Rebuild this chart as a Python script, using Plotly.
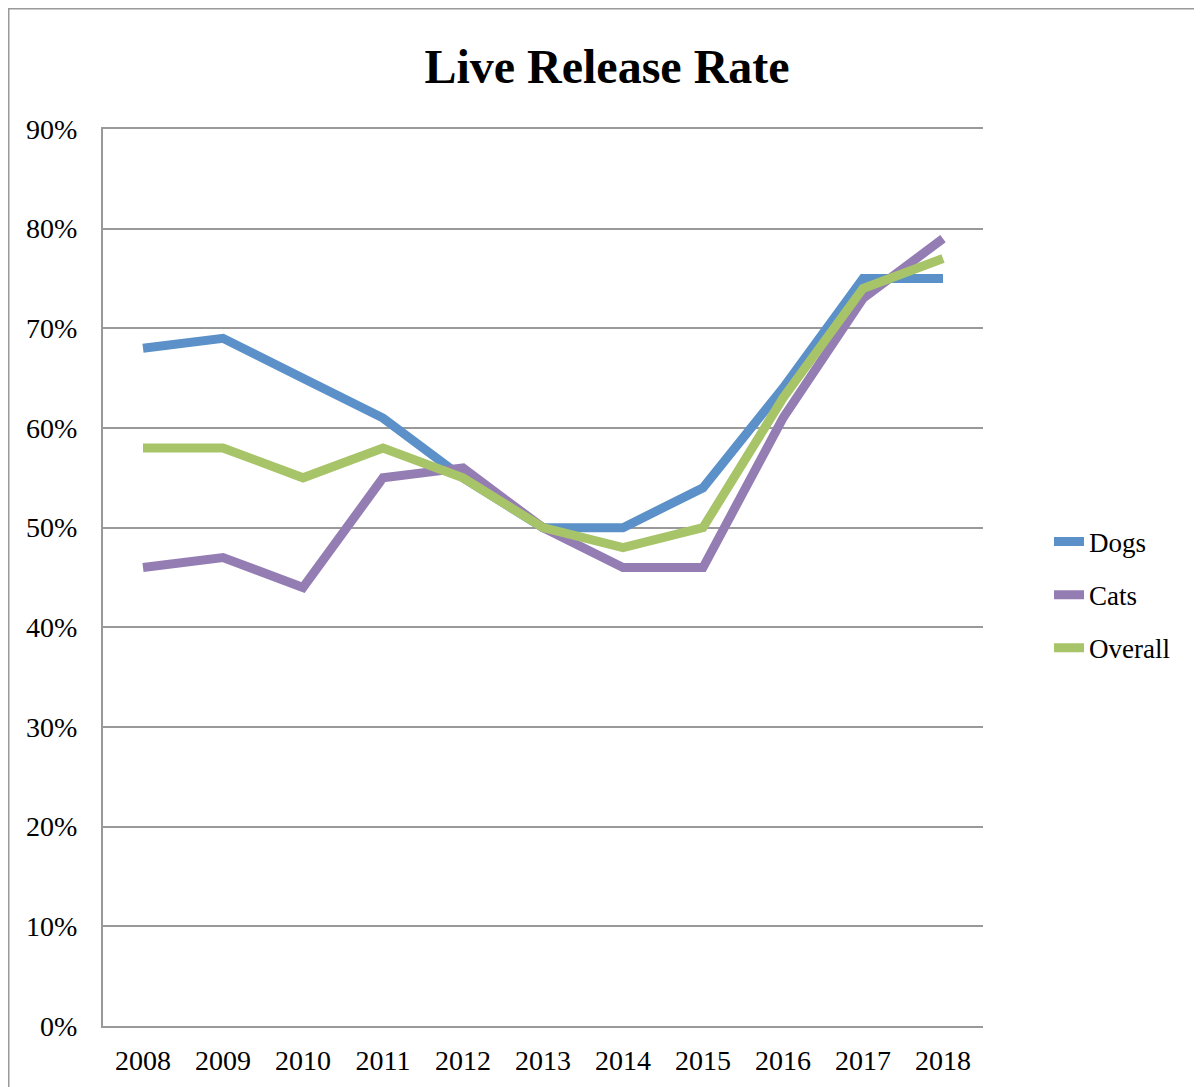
import plotly.graph_objects as go

years = ["2008", "2009", "2010", "2011", "2012", "2013", "2014", "2015", "2016", "2017", "2018"]
dogs = [68, 69, 65, 61, 55, 50, 50, 54, 64, 75, 75]
cats = [46, 47, 44, 55, 56, 50, 46, 46, 61, 73, 79]
overall = [58, 58, 55, 58, 55, 50, 48, 50, 63, 74, 77]
y_ticks = [0, 10, 20, 30, 40, 50, 60, 70, 80, 90]
y_labels = ["0%", "10%", "20%", "30%", "40%", "50%", "60%", "70%", "80%", "90%"]

series = [("Dogs", dogs, "#5B91C8"), ("Cats", cats, "#947DB3"), ("Overall", overall, "#A8C468")]

fig = go.Figure()
for name, vals, col in series:
    fig.add_trace(go.Scatter(
        x=years, y=vals, name=name, mode="lines",
        line=dict(color=col, width=9), legendgroup=name,
    ))

OFF = 8  # page body offset
W, H = 1202 - OFF, 1087 - OFF
L, R, T, B = 103, 983, 129, 1026  # screen coords of plot area
pw, ph = R - L, B - T

fig.update_layout(
    width=W, height=H,
    margin=dict(l=L - OFF, r=W - (R - OFF), t=T - OFF, b=H - (B - OFF), autoexpand=False),
    paper_bgcolor="white", plot_bgcolor="white",
    font=dict(family="Liberation Serif", size=28, color="black"),
    title=dict(text="<b>Live Release Rate</b>", x=(607 - OFF) / W, xanchor="center",
               y=1 - (66 - OFF) / H, yanchor="middle",
               font=dict(family="Liberation Serif", size=48, color="black")),
    legend=dict(x=(1049 - L) / pw, y=(B - 595) / ph, xanchor="left", yanchor="middle",
                font=dict(family="Liberation Serif", size=27), tracegroupgap=15,
                bgcolor="rgba(0,0,0,0)"),
    xaxis=dict(type="category", range=[-0.5, 10.5], showgrid=False, automargin=False,
               showline=True, mirror=True, linecolor="#999999", linewidth=2, ticks="",
               ticklabelstandoff=8, tickfont=dict(size=28)),
    yaxis=dict(range=[0, 90], tickvals=y_ticks, ticktext=y_labels, automargin=False,
               showgrid=True,
               gridcolor="#999999", gridwidth=1.5, showline=True, linecolor="#999999",
               linewidth=2, ticks="", ticklabelstandoff=18, zeroline=False,
               tickfont=dict(size=28)),
    showlegend=True,
)

fig.add_shape(type="rect", xref="paper", yref="paper",
              x0=(8.5 - L) / pw, x1=1.5, y0=-0.2, y1=(B - 8.5) / ph,
              line=dict(color="#999999", width=2), fillcolor="rgba(0,0,0,0)", layer="below")

fig.write_html("out.html")
